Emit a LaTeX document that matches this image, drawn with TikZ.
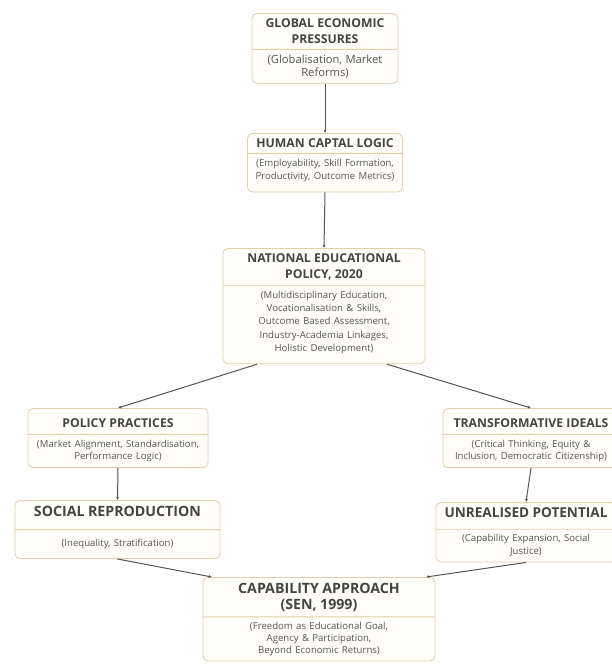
\documentclass[tikz,border=0pt]{standalone}
\usepackage{fontspec}
\setmainfont{Open Sans}
\usetikzlibrary{shapes.multipart}
\usetikzlibrary{calc}
\usetikzlibrary{arrows.meta}

\definecolor{boxline}{HTML}{E0D0AE}
\definecolor{boxfill}{HTML}{FFFEFA}
\definecolor{headtext}{HTML}{444444}
\definecolor{bodytext}{HTML}{555555}
\definecolor{arrowline}{HTML}{555555}

\newcommand{\boxhead}[2][12.2]{{\fontsize{#1}{16}\selectfont\bfseries\color{headtext}#2\par}}
\newcommand{\boxbody}[2][12.8]{{\fontsize{9.6}{#1}\selectfont\color{bodytext}#2\par}}
% invisible strut: height #1, depth #2
\newcommand{\pad}[2]{\rule[-#2]{0pt}{\dimexpr #1+#2\relax}}

\begin{document}
\begin{tikzpicture}[x=1pt, y=-1pt]
    \tikzstyle{frame} = [draw=boxline, line width=0.9pt, fill=boxfill, rounded corners=5pt, rectangle split, rectangle split parts=2, align=center, inner xsep=4pt, inner ysep=5pt, anchor=north];
    \tikzstyle{pointer} = [draw=arrowline, line width=1pt, -{Latex[length=3pt, width=3pt]}];

    \useasboundingbox (0,0) rectangle (611,664);

    \node[frame, text width=138pt] (global) at (325, 13)
        {\boxhead{GLOBAL ECONOMIC\\ PRESSURES}
         \nodepart{two} {\fontsize{11.2}{12.8}\selectfont\color{bodytext} (Globalisation, Market\\ Reforms)\par}};
    \node[frame, text width=147pt] (human) at (325, 133)
        {\boxhead{HUMAN CAPTAL LOGIC}
         \nodepart{two} \boxbody[13.5]{(Employability, Skill Formation,\\ Productivity, Outcome Metrics)\pad{0pt}{7pt}}};
    \node[frame, text width=194pt] (nep) at (324, 248)
        {\boxhead{NATIONAL EDUCATIONAL\\ POLICY, 2020}
         \nodepart{two} \boxbody[13.2]{(Multidisciplinary Education,\\ Vocationalisation \& Skills,\\ Outcome Based Assessment,\\ Industry-Academia Linkages,\\ Holistic Development)\pad{0pt}{7pt}}};

    \node[frame, text width=172pt] (practice) at (118, 408)
        {\boxhead{\pad{13.5pt}{1.5pt}POLICY PRACTICES}
         \nodepart{two} \boxbody{(Market Alignment, Standardisation,\\ Performance Logic)}};
    \node[frame, text width=168pt] (ideals) at (531, 408)
        {\boxhead{\pad{13.5pt}{1.5pt}TRANSFORMATIVE IDEALS}
         \nodepart{two} \boxbody{(Critical Thinking, Equity \&\\ Inclusion, Democratic Citizenship)}};

    \node[frame, text width=197pt] (socrep) at (117.5, 500)
        {\boxhead[14.2]{SOCIAL REPRODUCTION\pad{0pt}{8pt}}
         \nodepart{two} \boxbody{\pad{11pt}{7pt}(Inequality, Stratification)}};
    \node[frame, text width=172pt] (unreal) at (526, 502)
        {\boxhead[13.6]{UNREALISED POTENTIAL\pad{0pt}{6pt}}
         \nodepart{two} \boxbody{(Capability Expansion, Social\\ Justice)}};

    \node[frame, text width=224pt] (capab) at (319, 577)
        {\boxhead[14.2]{CAPABILITY APPROACH\\ (SEN, 1999)\pad{0pt}{2pt}}
         \nodepart{two} \boxbody[11.8]{(Freedom as Educational Goal,\\ Agency \& Participation,\\ Beyond Economic Returns)}};

    \draw [pointer] (global.south) -- (human.north);
    \draw [pointer] (human.south) -- (nep.north);
    \draw [pointer] ($(nep.south west)!0.17!(nep.south east)$) -- (practice.north);
    \draw [pointer] ($(nep.south west)!0.81!(nep.south east)$) -- (ideals.north);
    \draw [pointer] (practice.south) -- (socrep.north);
    \draw [pointer] (ideals.south) -- (unreal.north);
    \draw [pointer] (socrep.south) -- ($(capab.north west)!0.04!(capab.north east)$);
    \draw [pointer] (unreal.south) -- ($(capab.north west)!0.96!(capab.north east)$);
\end{tikzpicture}
\end{document}
